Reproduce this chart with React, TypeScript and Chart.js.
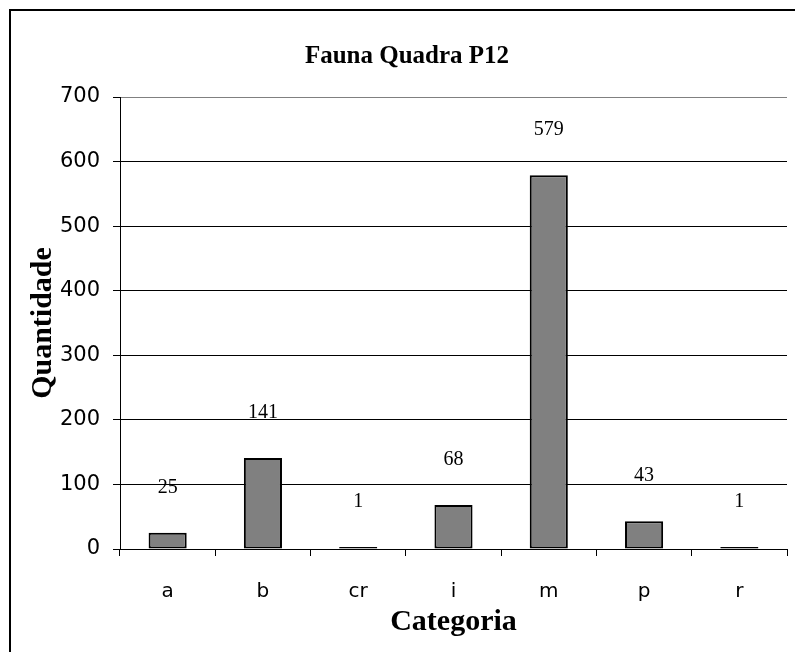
import React, { useEffect, useRef } from "react";
import { Chart, registerables } from "chart.js";

Chart.register(...registerables);

const categories = ["a", "b", "cr", "i", "m", "p", "r"];
const quantities = [25, 141, 1, 68, 579, 43, 1];
const chartTitle = "Fauna Quadra P12";
const yTitle = "Quantidade";
const xTitle = "Categoria";
const yMin = 0;
const yMax = 700;
const yStep = 100;

const SERIF = '"Liberation Serif", "Times New Roman", serif';
const SANS = '"DejaVu Sans", sans-serif';

const framePlugin = {
  id: "frameAndTitle",
  beforeDraw(chart: any) {
    const ctx = chart.ctx;
    ctx.save();
    ctx.fillStyle = "#ffffff";
    ctx.fillRect(0, 0, chart.width, chart.height);
    ctx.strokeStyle = "#000";
    ctx.lineWidth = 2;
    ctx.beginPath();
    ctx.moveTo(10, chart.height);
    ctx.lineTo(10, 10);
    ctx.lineTo(chart.width, 10);
    ctx.stroke();
    ctx.fillStyle = "#000";
    ctx.font = `bold 25px ${SERIF}`;
    ctx.textAlign = "center";
    ctx.textBaseline = "alphabetic";
    ctx.fillText(chartTitle, 407, 63);
    ctx.restore();
  },
};

const labelPlugin = {
  id: "barValueLabels",
  afterDatasetsDraw(chart: any) {
    const ctx = chart.ctx;
    const meta = chart.getDatasetMeta(0);
    const data = chart.data.datasets[0].data;
    ctx.save();
    ctx.fillStyle = "#000";
    ctx.font = `20px ${SERIF}`;
    ctx.textAlign = "center";
    ctx.textBaseline = "middle";
    meta.data.forEach((bar: any, i: number) => {
      ctx.fillText(String(data[i]), bar.x, bar.y - 45);
    });
    ctx.restore();
  },
};

export default function App() {
  const ref = useRef<HTMLCanvasElement>(null);
  useEffect(() => {
    if (!ref.current) return;
    const chart = new Chart(ref.current, {
      type: "bar",
      data: {
        labels: categories,
        datasets: [
          {
            data: quantities,
            backgroundColor: "#808080",
            borderColor: "#000",
            borderWidth: 2,
            borderSkipped: false,
            minBarLength: 2,
            barPercentage: 0.4,
            categoryPercentage: 1,
          },
        ],
      },
      plugins: [framePlugin, labelPlugin],
      options: {
        responsive: false,
        animation: false,
        devicePixelRatio: 1,
        layout: { padding: { left: 0, right: 8, top: 97, bottom: 0 } },
        plugins: {
          legend: { display: false },
          tooltip: { enabled: false },
          title: { display: false },
        },
        scales: {
          x: {
            grid: {
              offset: true,
              color: (c: any) => (c.index === categories.length ? "#808080" : "rgba(0,0,0,0)"),
              tickColor: "#000",
              tickLength: 7,
              lineWidth: 1,
            },
            border: { color: "#000", width: 1 },
            ticks: { color: "#000", font: { family: SANS, size: 20 }, padding: 24, maxRotation: 0 },
            title: {
              display: true,
              text: xTitle,
              color: "#000",
              font: { family: SERIF, size: 30, weight: "bold" },
              padding: { top: 12, bottom: 12 },
            },
            afterFit: (s: any) => {
              s.height = 103;
            },
          },
          y: {
            min: yMin,
            max: yMax,
            grid: {
              color: (c: any) => (c.tick && c.tick.value === yMax ? "#808080" : "#000"),
              tickColor: "#000",
              tickLength: 7,
              lineWidth: 1,
            },
            border: { color: "#000", width: 1 },
            ticks: { stepSize: yStep, color: "#000", font: { family: SANS, size: 21 }, padding: 13 },
            title: {
              display: true,
              text: yTitle,
              color: "#000",
              font: { family: SERIF, size: 30, weight: "bold" },
              padding: { top: 25, bottom: 25 },
            },
            afterFit: (s: any) => {
              s.width = 120;
            },
          },
        },
      },
    });
    return () => chart.destroy();
  }, []);
  return (
    <canvas
      ref={ref}
      width={795}
      height={652}
      style={{ position: "fixed", left: 0, top: 0, display: "block", width: 795, height: 652 }}
    />
  );
}
